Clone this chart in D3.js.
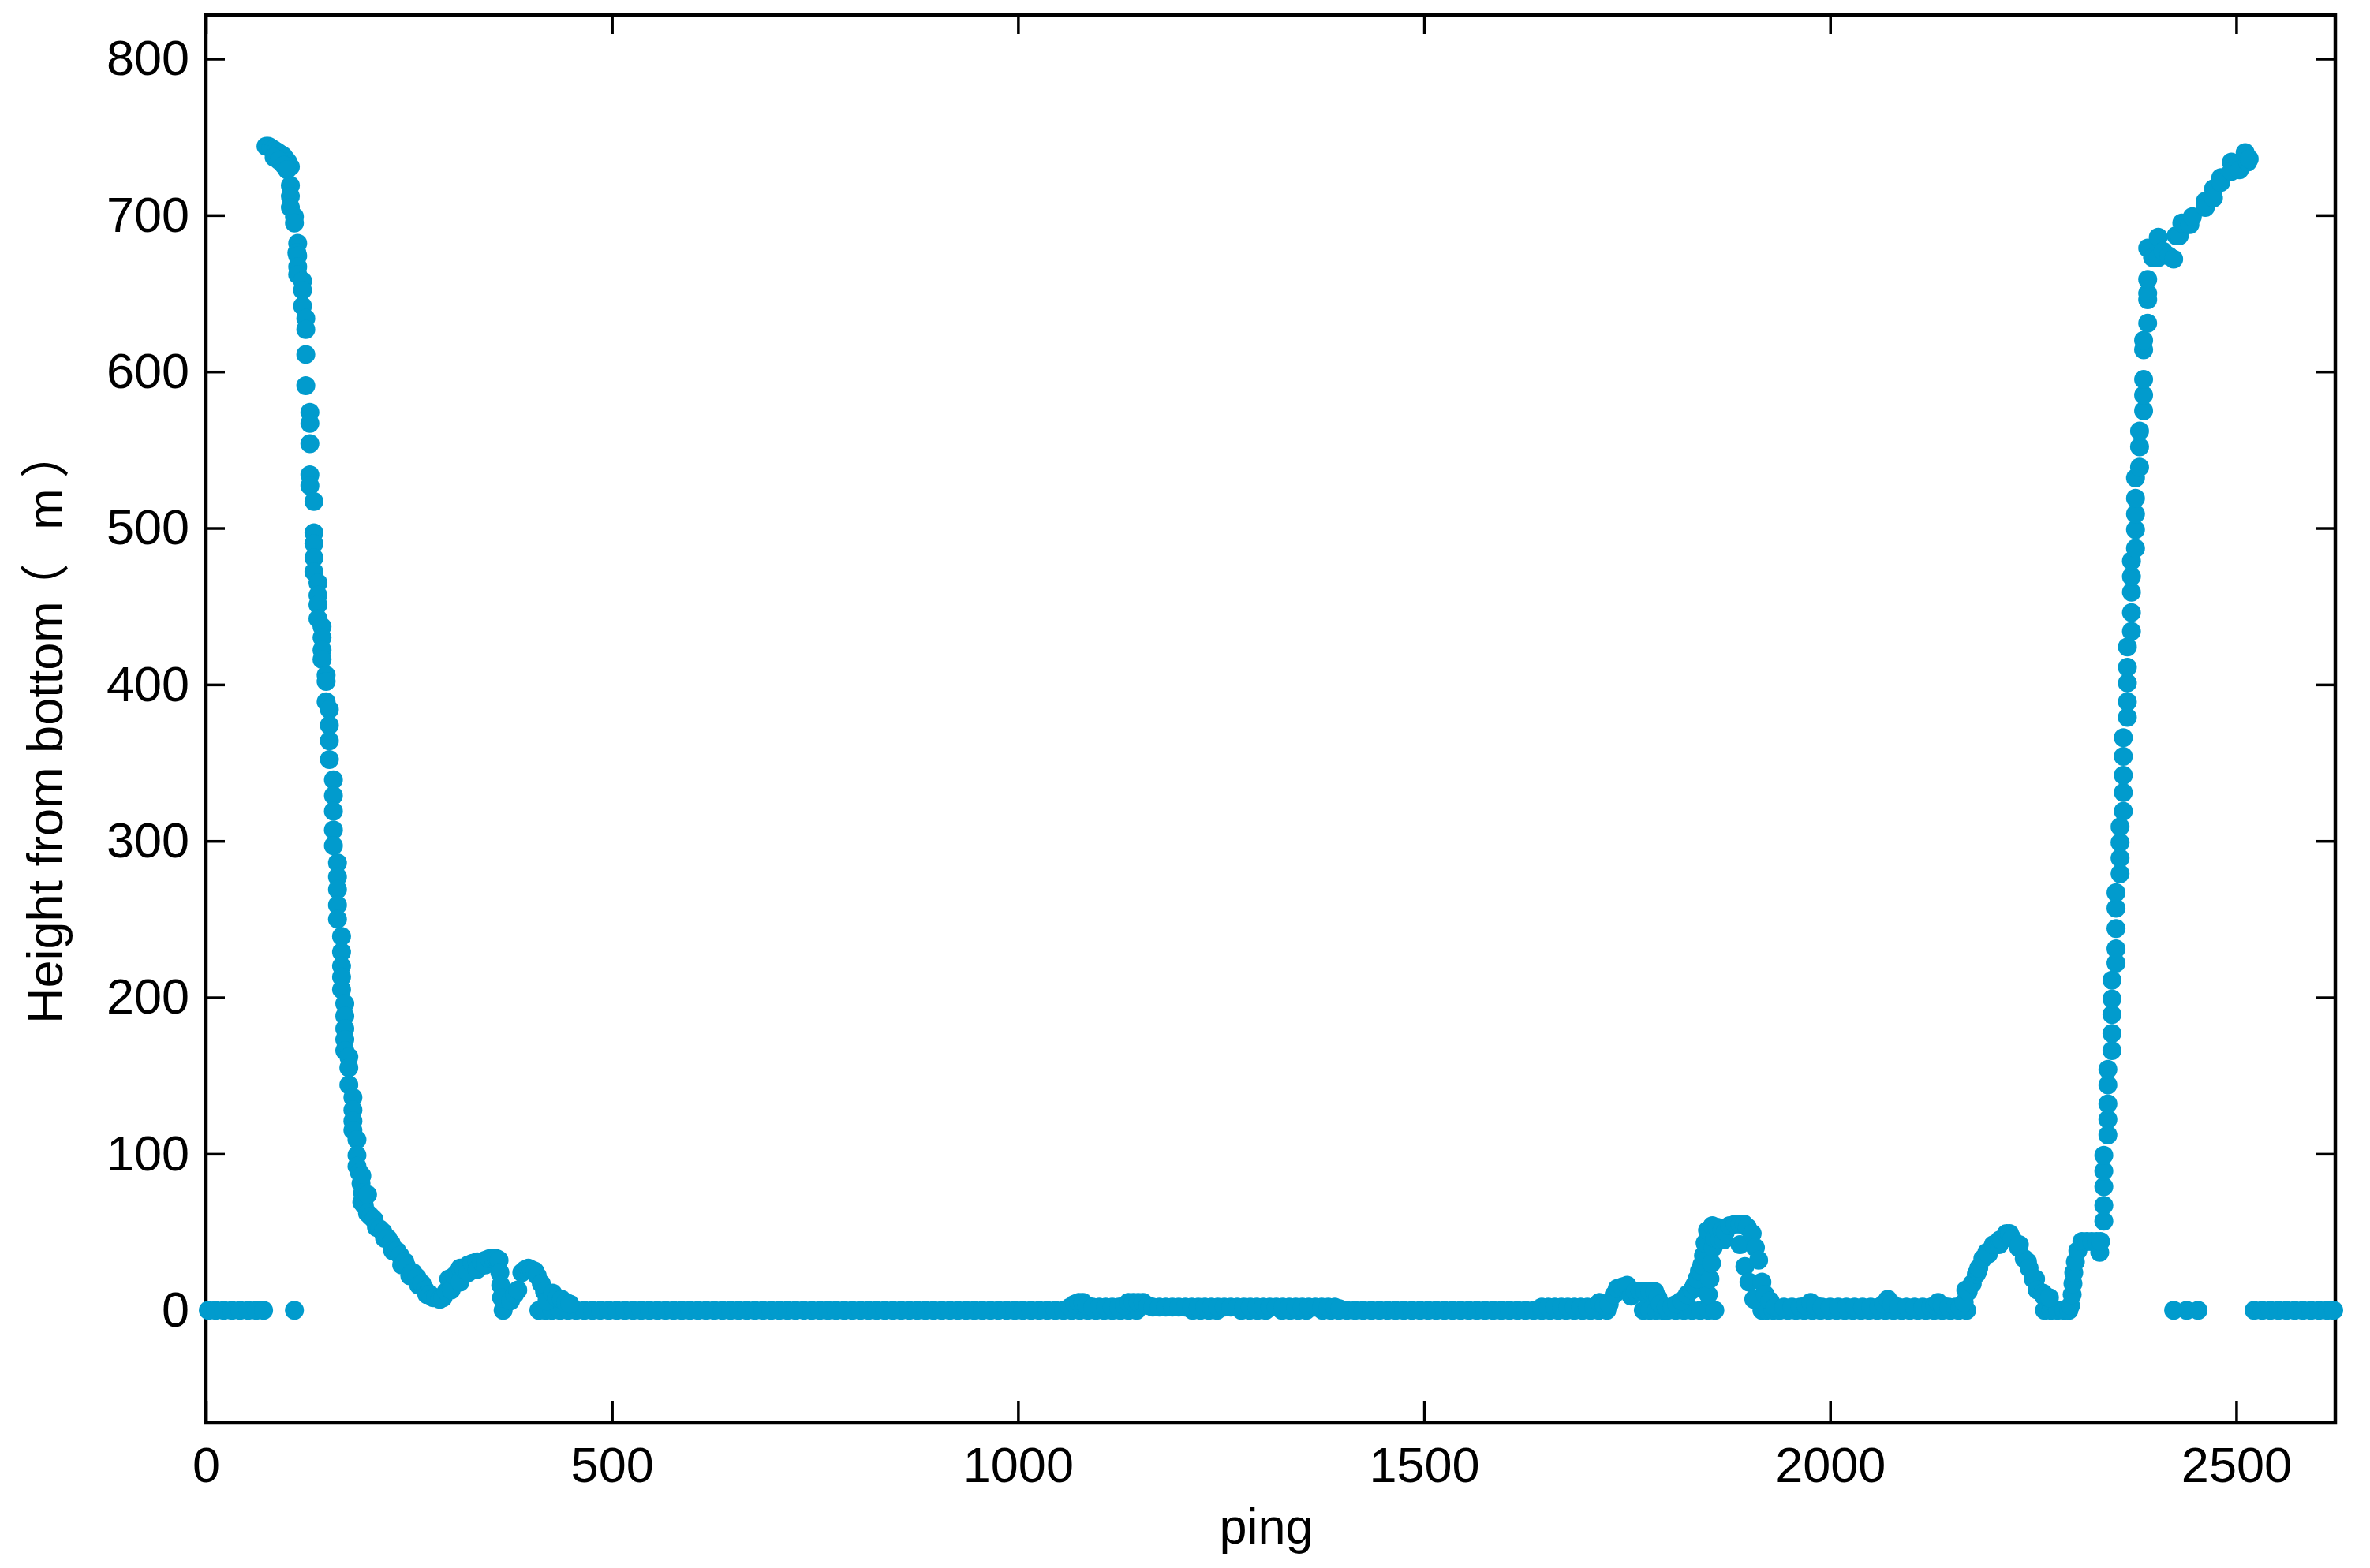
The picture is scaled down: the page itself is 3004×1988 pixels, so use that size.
<!DOCTYPE html>
<html lang="en">
<head>
<meta charset="utf-8">
<title>Height from bottom vs ping</title>
<script src="https://d3js.org/d3.v7.min.js"></script>
<style>
  body { margin: 0; background: #ffffff; }
  svg { font-family: "Liberation Sans", Arial, "Noto Sans CJK SC", sans-serif; }
</style>
</head>
<body>
<script>
// tick labels
const xTicks = [0, 500, 1000, 1500, 2000, 2500];
const yTicks = [0, 100, 200, 300, 400, 500, 600, 700, 800];

// pings where the height reads 0
const zeroPings = [3, 12, 22, 32, 42, 52, 62, 71, 109, 366, 410, 418, 426, 436, 446,
  456, 466, 476, 486, 496, 506, 516, 526, 536, 546, 556, 566, 576, 586, 596, 606, 616, 626, 636, 646,
  656, 666, 676, 686, 696, 706, 716, 726, 736, 746, 756, 766, 776, 786, 796, 806, 816, 826, 836, 846,
  856, 866, 876, 886, 896, 906, 916, 926, 936, 946, 956, 966, 976, 986, 996, 1006, 1016, 1026, 1036,
  1046, 1056, 1066, 1076, 1086, 1096, 1106, 1116, 1126, 1136, 1146, 1215, 1225, 1235, 1245, 1275, 1285,
  1295, 1305, 1325, 1335, 1345, 1355, 1375, 1385, 1395, 1405, 1415, 1425, 1435, 1445, 1455, 1465, 1475,
  1485, 1495, 1505, 1515, 1525, 1535, 1545, 1555, 1565, 1575, 1585, 1595, 1605, 1615, 1625, 1635, 1645,
  1655, 1665, 1675, 1685, 1695, 1705, 1715, 1725, 1770, 1778, 1786, 1794, 1800, 1810, 1820, 1830, 1840,
  1850, 1858, 1916, 1922, 1930, 1938, 1948, 1958, 1968, 1978, 1988, 1998, 2008, 2018, 2028, 2038, 2048,
  2058, 2068, 2078, 2088, 2098, 2108, 2118, 2128, 2138, 2148, 2158, 2168, 2264, 2272, 2280, 2288, 2294,
  2423, 2439, 2453, 2522, 2532, 2542, 2552, 2562, 2572, 2582, 2592, 2602, 2612, 2620];

// [ping, height] : first drop and the shallow section after it
const descent = [[74,744],[77,744],[80,743],[83,742],[86,741],[89,740],[92,739],[95,738],[98,736],
  [101,734],[104,731],[84,737],[90,735],[96,732],[100,729],
  [104,719],[104,712],[104,705],[109,699],[109,695],[113,682],[112,676],[113,674],[113,667],[113,662],
  [119,658],[119,652],[119,642],[123,634],[123,627],[123,611],[123,591],[128,574],[128,567],[128,554],
  [128,534],[128,527],[133,517],[133,497],[133,490],[133,481],[133,472],[138,465],[138,457],[138,451],
  [138,442],[143,437],[143,430],[143,422],[143,416],[148,406],[148,402],[148,389],[152,384],[152,374],
  [152,364],[152,352],[157,339],[157,329],[157,319],[157,307],[157,297],[162,286],[162,277],[162,269],
  [162,259],[162,250],[167,239],[167,229],[167,220],[167,213],[167,205],[171,196],[171,188],[171,180],
  [171,173],[171,166],[176,162],[176,155],[176,144],[181,136],[181,128],[181,121],[181,115],[186,109],
  [186,99],[186,92],[189,88],[191,81],[192,86],[192,69],[193,75],[195,67],[199,74],[199,62],[203,60],
  [207,58],[210,53],[214,52],[218,50],[220,46],[224,46],[228,43],[230,38],[235,38],[239,35],[241,29],
  [245,31],[247,28],[251,22],[255,24],[260,21],[262,16],[266,17],[270,13],[272,10],[276,10],[280,8],
  [283,8],[288,7],[292,8],[296,12],[299,20],[302,13],[306,22],[310,24],[313,27],[313,18],[318,26],
  [323,29],[323,24],[328,30],[334,31],[334,26],[339,31],[344,32],[344,29],[349,33],[354,33],[358,33],
  [361,32],[362,24],[363,16],[364,8],[375,6],[380,10],[384,13],[389,24],[393,26],[397,27],[401,26],
  [405,25],[408,22],[413,17],[417,12],[420,6],[427,11],[432,8],[438,7],[443,5],[448,4]];

// [ping, height] : small rises along the bottom, 1060-1400
const midBumps = [[1064,2],[1070,4],[1075,5],[1080,5],[1085,3],[1092,2],[1100,2],[1108,2],[1116,2],
  [1124,2],[1131,3],[1136,5],[1142,5],[1148,5],[1154,5],[1160,3],[1166,2],[1174,2],[1182,2],[1190,2],
  [1198,2],[1206,2],[1214,2],[1222,2],[1230,2],[1238,2],[1246,2],[1254,2],[1262,2],[1270,2],[1278,2],
  [1286,2],[1294,2],[1302,2],[1310,2],[1318,2],[1326,2],[1334,2],[1342,2],[1350,2],[1358,2],[1366,2],
  [1374,2],[1382,2],[1390,2],[1396,1]];

// [ping, height] : bumps 1640-1935
const ridgeA = [[1645,2],[1653,2],[1661,2],[1669,2],[1677,2],[1685,2],[1693,2],[1701,2],[1709,2],
  [1716,5],[1722,3],[1728,4],[1734,10],[1738,14],[1744,15],[1750,16],[1755,9],[1760,12],[1766,12],
  [1772,12],[1778,12],[1784,12],[1788,8],[1791,4],[1798,2],[1805,2],[1811,4],[1817,6],[1824,10],
  [1830,13],[1833,16],[1836,20],[1839,25],[1842,29],[1844,35],[1846,43],[1849,51],[1850,10],[1852,20],
  [1854,30],[1856,40],[1855,54],[1858,46],[1861,53],[1864,45],[1867,51],[1869,45],[1871,50],[1876,54],
  [1883,55],[1889,55],[1889,42],[1894,55],[1895,28],[1898,53],[1900,18],[1904,49],[1906,7],[1908,40],
  [1912,32],[1916,18],[1920,10],[1926,6],[1932,2]];

// [ping, height] : bumps 1940-2335
const ridgeB = [[1943,2],[1953,2],[1963,2],[1970,3],[1976,5],[1982,3],[1990,2],[2000,2],[2010,2],
  [2020,2],[2030,2],[2040,2],[2050,2],[2060,2],[2066,4],[2071,7],[2076,4],[2084,2],[2094,2],[2104,2],
  [2114,2],[2124,2],[2129,3],[2133,5],[2138,3],[2146,2],[2154,2],[2160,2],
  [2165,5],[2167,13],[2170,12],[2175,17],[2180,23],[2182,25],[2183,27],[2188,33],[2193,37],[2195,36],
  [2201,42],[2208,42],[2209,45],[2211,45],[2217,49],[2221,49],[2224,46],[2232,40],[2233,42],[2239,33],
  [2243,31],[2245,27],[2250,20],[2253,20],[2255,13],[2262,11],[2263,9],[2269,8],[2270,8],
  [2296,3],[2298,10],[2299,17],[2300,24],[2302,31],[2305,38],[2310,44],[2316,44],[2322,44],[2328,44],
  [2332,37],[2333,44]];

// [ping, height] : final climb
const ascent = [[2337,57],[2337,67],[2337,79],[2337,89],[2337,99],[2342,112],[2342,122],[2342,132],
  [2342,144],[2342,154],[2347,166],[2347,177],[2347,189],[2347,199],[2347,211],[2352,222],[2352,231],
  [2352,244],[2352,257],[2352,267],[2357,279],[2357,289],[2357,299],[2357,309],[2361,319],[2361,331],
  [2361,342],[2361,354],[2361,366],[2366,379],[2366,389],[2366,401],[2366,411],[2366,424],[2371,434],
  [2371,446],[2371,459],[2371,469],[2371,479],[2376,487],[2376,499],[2376,509],[2376,519],[2376,532],
  [2381,539],[2381,552],[2381,562],[2386,575],[2386,585],[2386,595],[2386,614],[2386,620],[2391,631],
  [2391,646],[2391,650],[2391,659],[2391,679],[2397,673],[2404,686],[2404,673],[2410,677],[2417,674],
  [2423,672],[2426,687],[2430,687],[2433,695],[2443,694],[2446,699],[2462,709],[2462,705],[2472,717],
  [2472,711],[2481,724],[2481,721],[2494,734],[2494,728],[2504,729],[2511,740],[2514,734],[2516,736]];

const points = zeroPings.map(p => ({ping: p, h: 0}))
  .concat([descent, midBumps, ridgeA, ridgeB, ascent].flat().map(d => ({ping: d[0], h: d[1]})));

const margin = {top: 19, right: 44, bottom: 184, left: 261};
const width = 3004 - margin.left - margin.right,
      height = 1988 - margin.top - margin.bottom;
const fontSize = 63;

const svg = d3.select("body")
  .append("svg")
  .attr("width", width + margin.left + margin.right)
  .attr("height", height + margin.top + margin.bottom)
  .append("g")
  .attr("transform", "translate(" + margin.left + "," + margin.top + ")");

const xScale = d3.scaleLinear().domain([0, 2622]).range([0, width]);
const yScale = d3.scaleLinear().domain([-72, 828]).range([height, 0]);

// axes with inward ticks on all four sides
function styleAxis(g) {
  g.select(".domain").remove();
  g.selectAll(".tick line").attr("stroke", "#000").attr("stroke-width", 3.5);
  g.selectAll(".tick text").attr("fill", "#000");
  g.attr("font-size", fontSize).attr("font-family", null);
}

svg.append("g")
  .attr("transform", "translate(0," + height + ")")
  .call(d3.axisBottom(xScale).tickValues(xTicks).tickSize(-28).tickPadding(30).tickFormat(d3.format("d")))
  .call(styleAxis);

svg.append("g")
  .call(d3.axisTop(xScale).tickValues(xTicks).tickSize(-24).tickFormat(""))
  .call(styleAxis);

svg.append("g")
  .call(d3.axisLeft(yScale).tickValues(yTicks).tickSize(-24).tickPadding(21).tickFormat(d3.format("d")))
  .call(styleAxis);

svg.append("g")
  .attr("transform", "translate(" + width + ",0)")
  .call(d3.axisRight(yScale).tickValues(yTicks).tickSize(-24).tickFormat(""))
  .call(styleAxis);

// frame
svg.append("rect")
  .attr("x", 0).attr("y", 0)
  .attr("width", width).attr("height", height)
  .attr("fill", "none")
  .attr("stroke", "#000")
  .attr("stroke-width", 4.5);

// dots
svg.append("g")
  .selectAll("circle")
  .data(points)
  .join("circle")
  .attr("cx", d => xScale(d.ping))
  .attr("cy", d => yScale(d.h))
  .attr("r", 12)
  .attr("fill", "#019bcd");

// axis titles
svg.append("text")
  .attr("x", 1605 - margin.left)
  .attr("y", 1957 - margin.top)
  .attr("text-anchor", "middle")
  .attr("font-size", fontSize)
  .text("ping");

const yTitle = svg.append("text")
  .attr("transform", "rotate(-90)")
  .attr("x", -(1298 - margin.top))
  .attr("y", 79 - margin.left)
  .attr("text-anchor", "start")
  .attr("font-size", fontSize);
yTitle.append("tspan").text("Height from bottom");
yTitle.append("tspan").attr("dx", -15).text("（");
yTitle.append("tspan").attr("dx", 25).text(" m");
yTitle.append("tspan").attr("dx", 13).text("）");
</script>
</body>
</html>
